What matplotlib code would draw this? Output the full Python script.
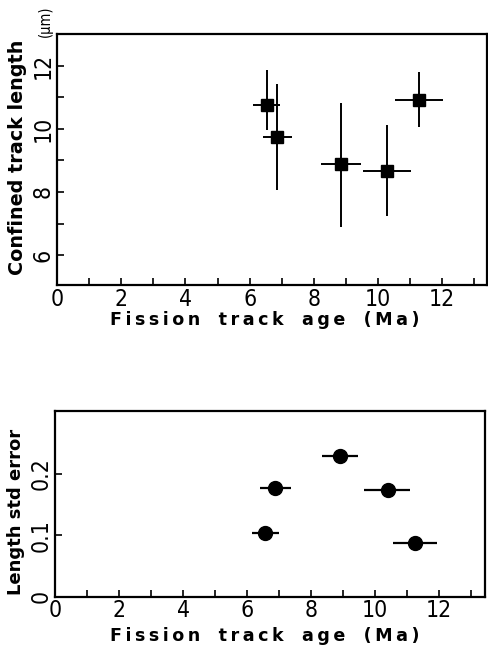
import matplotlib
matplotlib.use("Agg")
import matplotlib.pyplot as plt
from matplotlib.ticker import MultipleLocator, FixedLocator
from matplotlib import font_manager

# Top panel data: fission track age vs confined track length
age_top = [6.55, 6.86, 8.84, 10.27, 11.29]
age_lo_top = [6.10, 6.43, 8.22, 9.52, 10.53]
age_hi_top = [6.95, 7.33, 9.47, 11.03, 12.02]
length = [10.76, 9.74, 8.89, 8.65, 10.90]
length_lo = [9.95, 8.07, 6.88, 7.23, 10.05]
length_hi = [11.85, 11.43, 10.83, 10.13, 11.80]

# Bottom panel data: fission track age vs length std error
age_bot = [6.57, 6.88, 8.92, 10.40, 11.26]
age_lo_bot = [6.16, 6.42, 8.36, 9.67, 10.58]
age_hi_bot = [7.00, 7.38, 9.49, 11.10, 11.94]
std_err = [0.104, 0.177, 0.228, 0.174, 0.087]

x_ticks = [0, 2, 4, 6, 8, 10, 12]
y_ticks_top = [6, 8, 10, 12]
y_ticks_bot = [0, 0.1, 0.2]

# pick a narrow, regular-weight font if one is installed
narrow = None
for f in font_manager.fontManager.ttflist:
    n = f.name
    st = str(f.stretch).lower()
    w = f.weight
    regular = w in (400, "normal", "regular", "book")
    if ("Narrow" in n or "Condensed" in n or "condensed" in st) and "Mono" not in n \
            and f.style == "normal" and regular:
        narrow = f.fname
        break

if narrow:
    tick_fp = font_manager.FontProperties(fname=narrow, size=16.5)
else:
    tick_fp = font_manager.FontProperties(family="DejaVu Sans", size=13)
mu_fp = tick_fp.copy()
mu_fp.set_size(10.5)

label_font = dict(family="DejaVu Sans", weight="bold", size=13)

def spaced(text):
    ts = "\u2009"
    return "   ".join(ts.join(word) for word in text.split(" "))

xlabel = spaced("Fission track age (Ma)")

fig = plt.figure(figsize=(4.88, 6.45), dpi=100)
ax1 = fig.add_axes([0.117, 0.558, 0.881, 0.389])
ax2 = fig.add_axes([0.113, 0.075, 0.881, 0.288])

def errs(c, lo, hi):
    return [[ci - l for ci, l in zip(c, lo)], [h - ci for ci, h in zip(c, hi)]]

ax1.errorbar(age_top, length, xerr=errs(age_top, age_lo_top, age_hi_top),
             yerr=errs(length, length_lo, length_hi), fmt="s", color="black",
             markersize=8, elinewidth=1.4, capsize=0)
ax2.errorbar(age_bot, std_err, xerr=errs(age_bot, age_lo_bot, age_hi_bot),
             fmt="o", color="black", markersize=10, elinewidth=1.6, capsize=0)

ax1.set_xlim(0, 13.4)
ax1.set_ylim(5.05, 13.0)
ax2.set_xlim(0, 13.45)
ax2.set_ylim(0, 0.302)

for ax, yt in ((ax1, y_ticks_top), (ax2, y_ticks_bot)):
    ax.xaxis.set_major_locator(FixedLocator(x_ticks))
    ax.xaxis.set_minor_locator(MultipleLocator(1))
    ax.set_yticks(yt)
    ax.set_xticklabels([str(t) for t in x_ticks], fontproperties=tick_fp)
    ax.set_yticklabels([("%g" % t) for t in yt], fontproperties=tick_fp,
                       rotation=90, va="center")
    ax.tick_params(axis="both", which="both", direction="in", length=5, width=1.2,
                   top=False, right=False)
    ax.tick_params(axis="x", pad=2)
    ax.tick_params(axis="y", pad=2)
    for s in ax.spines.values():
        s.set_linewidth(1.6)

ax1.set_xlabel(xlabel, labelpad=0, fontsize=12.6,
               **{k: v for k, v in label_font.items() if k != "size"})
ax2.set_xlabel(xlabel, labelpad=3, fontsize=12.6,
               **{k: v for k, v in label_font.items() if k != "size"})
ax1.xaxis.label.set_x(0.482)
ax2.xaxis.label.set_x(0.487)

ax1.yaxis.set_minor_locator(MultipleLocator(1))
ax1.set_ylabel("Confined track length", fontsize=13.8,
               **{k: v for k, v in label_font.items() if k != "size"})
ax1.yaxis.set_label_coords(-0.07, 0.51)
ax2.set_ylabel("Length std error", **label_font)
ax2.yaxis.set_label_coords(-0.07, 0.457)

fig.text(0.093, 0.967, "(µm)", rotation=90, ha="center", va="center",
         fontproperties=mu_fp)

fig.savefig("out.png", dpi=100)
